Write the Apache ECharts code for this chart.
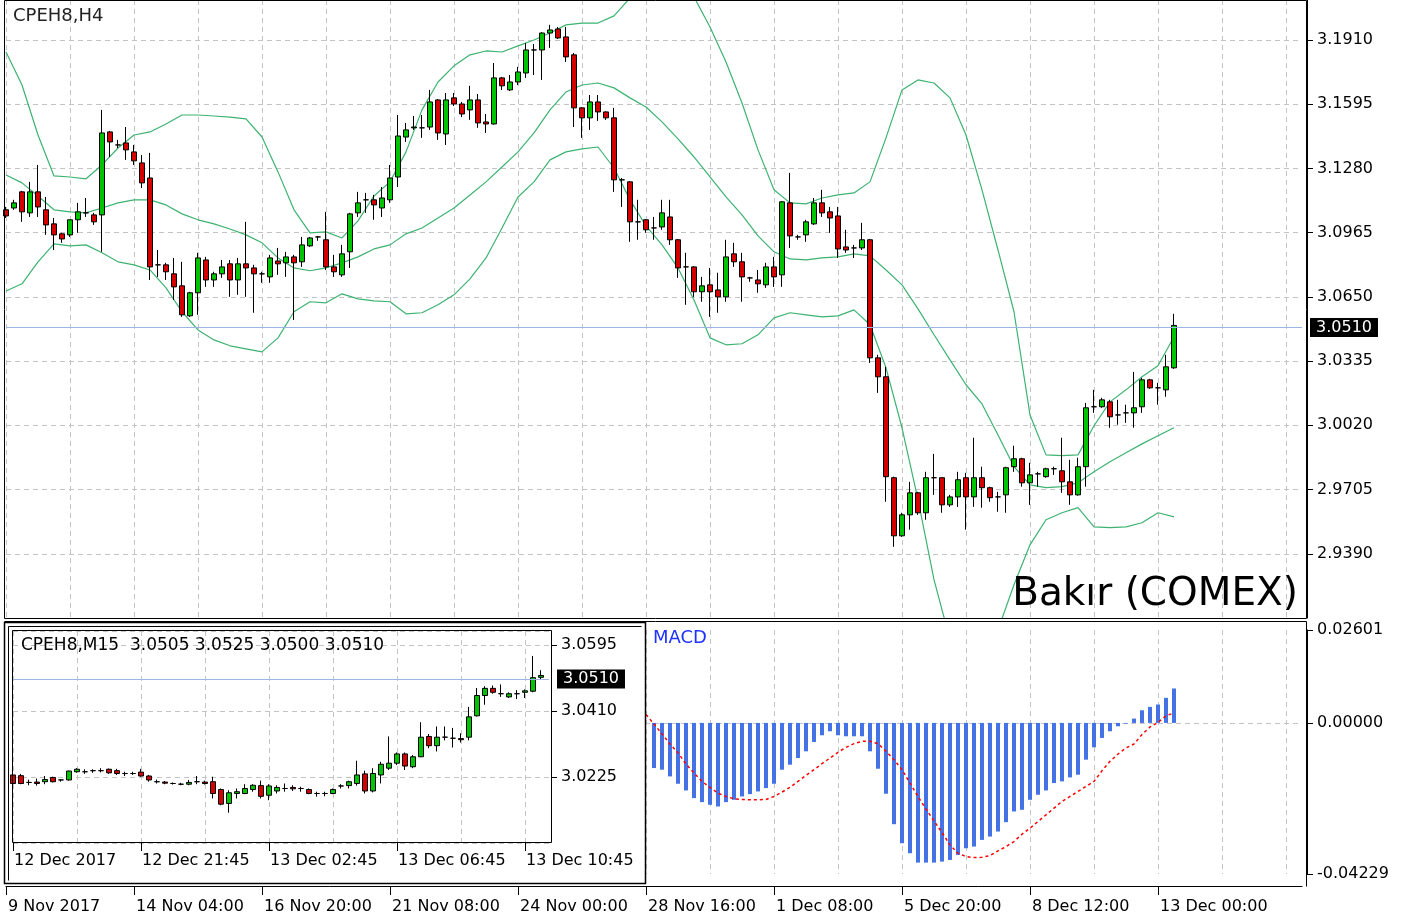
<!DOCTYPE html>
<html lang="tr">
<head>
<meta charset="UTF-8">
<title>CPEH8,H4</title>
<script src="https://cdn.jsdelivr.net/npm/echarts@6/dist/echarts.min.js"></script>
<style>
    html, body { margin: 0; padding: 0; background: #fff; }
    #main { width: 1411px; height: 922px; }
</style>
</head>
<body>
<div id="main"></div>
<script type="text/javascript">
    // H4 mumları: [açılış, kapanış, en düşük, en yüksek]
    var h4Candles = [
        [3.1077,3.1047,3.1037,3.1091],[3.1086,3.1111,3.1077,3.1126],[3.1165,3.1067,3.1018,3.1170],[3.1062,3.1165,3.1042,3.1214],[3.1165,3.1091,3.1042,3.1297],
        [3.1077,3.1003,3.0954,3.1140],[3.1008,3.0954,3.0880,3.1037],[3.0959,3.0934,3.0915,3.0964],[3.0954,3.1028,3.0944,3.1028],[3.1028,3.1067,3.0964,3.1111],
        [3.1062,3.1062,3.1042,3.1135],[3.1052,3.1018,3.1003,3.1062],[3.1052,3.1454,3.0871,3.1567],[3.1459,3.1410,3.1336,3.1464],[3.1395,3.1395,3.1380,3.1420],
        [3.1405,3.1371,3.1322,3.1483],[3.1361,3.1317,3.1297,3.1395],[3.1307,3.1209,3.1184,3.1346],[3.1233,3.0797,3.0733,3.1356],[3.0807,3.0807,3.0748,3.0880],
        [3.0807,3.0773,3.0733,3.0817],[3.0763,3.0699,3.0635,3.0841],[3.0704,3.0562,3.0552,3.0822],[3.0557,3.0670,3.0552,3.0675],[3.0670,3.0841,3.0562,3.0866],
        [3.0831,3.0733,3.0699,3.0846],[3.0733,3.0763,3.0699,3.0773],[3.0763,3.0797,3.0743,3.0831],[3.0812,3.0733,3.0650,3.0831],[3.0733,3.0812,3.0660,3.0841],
        [3.0812,3.0792,3.0650,3.1018],[3.0792,3.0763,3.0572,3.0807],[3.0763,3.0763,3.0719,3.0773],[3.0748,3.0841,3.0719,3.0856],[3.0826,3.0812,3.0758,3.0890],
        [3.0817,3.0846,3.0748,3.0871],[3.0846,3.0817,3.0537,3.0856],[3.0822,3.0905,3.0797,3.0944],[3.0900,3.0939,3.0895,3.0944],[3.0944,3.0944,3.0925,3.0949],
        [3.0930,3.0797,3.0782,3.1067],[3.0797,3.0773,3.0748,3.0856],[3.0758,3.0861,3.0748,3.0905],[3.0871,3.1057,3.0792,3.1062],[3.1062,3.1111,3.1042,3.1165],
        [3.1126,3.1126,3.1062,3.1160],[3.1126,3.1101,3.1028,3.1150],[3.1086,3.1135,3.1042,3.1189],[3.1126,3.1233,3.1111,3.1297],[3.1238,3.1439,3.1189,3.1542],
        [3.1434,3.1469,3.1410,3.1503],[3.1479,3.1483,3.1469,3.1537],[3.1479,3.1479,3.1430,3.1542],[3.1483,3.1606,3.1469,3.1665],[3.1616,3.1454,3.1420,3.1620],
        [3.1449,3.1616,3.1395,3.1650],[3.1626,3.1596,3.1586,3.1650],[3.1596,3.1547,3.1532,3.1606],[3.1567,3.1616,3.1518,3.1685],[3.1616,3.1503,3.1479,3.1645],
        [3.1508,3.1498,3.1454,3.1547],[3.1498,3.1724,3.1495,3.1797],[3.1724,3.1685,3.1665,3.1729],[3.1665,3.1704,3.1660,3.1738],[3.1704,3.1753,3.1689,3.1778],
        [3.1748,3.1861,3.1724,3.1895],[3.1861,3.1861,3.1738,3.1890],[3.1861,3.1944,3.1714,3.1948],[3.1944,3.1959,3.1871,3.1984],[3.1964,3.1920,3.1915,3.1974],
        [3.1925,3.1827,3.1802,3.1974],[3.1837,3.1577,3.1483,3.1846],[3.1577,3.1528,3.1430,3.1581],[3.1528,3.1606,3.1469,3.1640],[3.1606,3.1557,3.1513,3.1640],
        [3.1557,3.1528,3.1518,3.1560],[3.1528,3.1224,3.1165,3.1577],[3.1224,3.1224,3.1091,3.1233],[3.1214,3.1018,3.0920,3.1218],[3.1018,3.1018,3.0930,3.1126],
        [3.1028,3.0979,3.0964,3.1031],[3.0988,3.0988,3.0930,3.1042],[3.0993,3.1062,3.0979,3.1126],[3.1042,3.0930,3.0905,3.1126],[3.0930,3.0792,3.0743,3.0934],
        [3.0797,3.0797,3.0611,3.0866],[3.0797,3.0675,3.0650,3.0800],[3.0675,3.0704,3.0626,3.0748],[3.0709,3.0675,3.0552,3.0792],[3.0684,3.0650,3.0572,3.0768],
        [3.0650,3.0846,3.0626,3.0930],[3.0861,3.0822,3.0797,3.0915],[3.0822,3.0748,3.0626,3.0866],[3.0743,3.0743,3.0724,3.0748],[3.0733,3.0714,3.0670,3.0782],
        [3.0709,3.0797,3.0694,3.0817],[3.0797,3.0748,3.0699,3.0846],[3.0758,3.1116,3.0699,3.1120],[3.1111,3.0949,3.0890,3.1258],[3.0944,3.0944,3.0930,3.0954],
        [3.0954,3.1018,3.0920,3.1028],[3.1008,3.1111,3.1003,3.1135],[3.1111,3.1062,3.1042,3.1175],[3.1067,3.1037,3.0964,3.1091],[3.1047,3.0885,3.0841,3.1091],
        [3.0895,3.0880,3.0866,3.0979],[3.0890,3.0890,3.0841,3.0905],[3.0890,3.0930,3.0880,3.1013],[3.0930,3.0351,3.0326,3.0934],[3.0351,3.0258,3.0179,3.0366],
        [3.0258,2.9768,2.9645,3.0307],[2.9763,2.9478,2.9424,2.9768],[2.9478,2.9581,2.9473,2.9591],[2.9581,2.9689,2.9508,2.9743],[2.9689,2.9591,2.9581,2.9694],
        [2.9591,2.9763,2.9557,2.9792],[2.9763,2.9763,2.9679,2.9880],[2.9763,2.9630,2.9591,2.9766],[2.9630,2.9669,2.9620,2.9679],[2.9669,2.9753,2.9620,2.9792],
        [2.9763,2.9669,2.9508,2.9787],[2.9669,2.9763,2.9620,2.9959],[2.9763,2.9714,2.9616,2.9817],[2.9714,2.9665,2.9645,2.9719],[2.9669,2.9669,2.9596,2.9694],
        [2.9679,2.9812,2.9591,2.9817],[2.9817,2.9856,2.9792,2.9920],[2.9856,2.9738,2.9719,2.9861],[2.9738,2.9777,2.9630,2.9836],[2.9782,2.9782,2.9719,2.9792],
        [2.9768,2.9807,2.9763,2.9812],[2.9807,2.9807,2.9777,2.9817],[2.9797,2.9743,2.9689,2.9959],[2.9743,2.9679,2.9630,2.9851],[2.9679,2.9817,2.9675,2.9861],
        [2.9817,3.0106,2.9719,3.0130],[3.0111,3.0111,3.0081,3.0194],[3.0111,3.0145,3.0106,3.0155],[3.0135,3.0062,3.0008,3.0145],[3.0071,3.0071,3.0023,3.0145],
        [3.0081,3.0081,3.0032,3.0121],[3.0081,3.0106,3.0008,3.0282],[3.0111,3.0243,3.0081,3.0253],[3.0243,3.0204,3.0199,3.0248],[3.0204,3.0204,3.0121,3.0228],
        [3.0194,3.0307,3.0160,3.0366],[3.0302,3.0510,3.0297,3.0567]
    ];

    // Bollinger bantları, her 2 mumda bir okunan değerler (0, 2, 4 ... 146)
    var bbUpper = [
        3.1851,3.1689,3.1444,3.1243,3.1238,3.1229,3.1297,3.1380,3.1444,3.1459,
        3.1498,3.1542,3.1542,3.1537,3.1532,3.1523,3.1434,3.1263,3.1077,3.0964,
        3.0969,3.0939,3.1023,3.1145,3.1214,3.1361,3.1567,3.1704,3.1783,3.1837,
        3.1856,3.1851,3.1881,3.1910,3.1944,3.1984,3.1993,3.1993,3.2028,3.2116,
        3.2180,3.2204,3.2180,3.2121,3.1974,3.1802,3.1601,3.1371,3.1175,3.1111,
        3.1106,3.1135,3.1150,3.1160,3.1214,3.1430,3.1665,3.1714,3.1699,3.1626,
        3.1444,3.1175,3.0880,3.0577,3.0071,2.9875,2.9871,2.9875,3.0018,3.0135,
        3.0194,3.0258,3.0312,3.0454
    ];
    var bbMiddle = [
        3.1248,3.1209,3.1145,3.1077,3.1067,3.1062,3.1086,3.1111,3.1126,3.1126,
        3.1101,3.1057,3.1028,3.1008,3.0983,3.0954,3.0915,3.0841,3.0792,3.0778,
        3.0792,3.0817,3.0846,3.0885,3.0905,3.0959,3.0988,3.1037,3.1086,3.1150,
        3.1214,3.1287,3.1361,3.1454,3.1567,3.1655,3.1689,3.1699,3.1675,3.1626,
        3.1581,3.1508,3.1425,3.1336,3.1238,3.1140,3.1052,3.0949,3.0871,3.0836,
        3.0831,3.0841,3.0846,3.0861,3.0851,3.0782,3.0709,3.0591,3.0464,3.0341,
        3.0219,3.0125,2.9973,2.9817,2.9728,2.9714,2.9719,2.9738,2.9792,2.9841,
        2.9885,2.9929,2.9969,3.0008
    ];
    var bbLower = [
        3.0679,3.0714,3.0822,3.0910,3.0900,3.0905,3.0866,3.0822,3.0807,3.0782,
        3.0694,3.0577,3.0488,3.0439,3.0410,3.0395,3.0380,3.0449,3.0577,3.0626,
        3.0621,3.0665,3.0640,3.0630,3.0626,3.0567,3.0572,3.0611,3.0660,3.0738,
        3.0841,3.0988,3.1140,3.1214,3.1322,3.1361,3.1376,3.1385,3.1282,3.1126,
        3.0998,3.0905,3.0792,3.0635,3.0449,3.0415,3.0420,3.0464,3.0547,3.0572,
        3.0562,3.0552,3.0557,3.0586,3.0513,3.0302,3.0008,2.9655,2.9263,2.8968,
        2.8772,2.8870,2.9017,2.9238,2.9434,2.9557,2.9591,2.9616,2.9522,2.9518,
        2.9522,2.9542,2.9591,2.9571
    ];

    // MACD histogramı (81. mumdan itibaren görünen kısım) ve sinyal çizgisi (80. mumdan itibaren)
    var macdStart = 81;
    var macdHist = [
        -0.01263,-0.01310,-0.01497,-0.01703,-0.01890,-0.02105,-0.02217,-0.02292,-0.02339,-0.02217,
        -0.02152,-0.02058,-0.01993,-0.01918,-0.01824,-0.01703,-0.01310,-0.01169,-0.00982,-0.00795,
        -0.00533,-0.00346,-0.00234,-0.00346,-0.00374,-0.00374,-0.00374,-0.00795,-0.01282,-0.01983,
        -0.02835,-0.03368,-0.03648,-0.03910,-0.03910,-0.03910,-0.03882,-0.03836,-0.03695,-0.03508,
        -0.03461,-0.03274,-0.03181,-0.03040,-0.02778,-0.02479,-0.02432,-0.02152,-0.02011,-0.01890,
        -0.01684,-0.01637,-0.01525,-0.01450,-0.01029,-0.00683,-0.00421,-0.00234,-0.00094,-0.00020,
        0.00122,0.00355,0.00449,0.00515,0.00702,0.00964
    ];
    var signalStart = 80;
    var macdSignal = [
        0.00234,-0.00028,-0.00309,-0.00589,-0.00833,-0.01151,-0.01403,-0.01637,-0.01805,-0.01965,
        -0.02058,-0.02124,-0.02142,-0.02152,-0.02152,-0.02142,-0.02058,-0.01936,-0.01805,-0.01637,
        -0.01469,-0.01310,-0.01141,-0.00982,-0.00823,-0.00683,-0.00580,-0.00515,-0.00515,-0.00580,
        -0.00795,-0.01029,-0.01310,-0.01684,-0.02058,-0.02414,-0.02741,-0.03068,-0.03415,-0.03648,
        -0.03742,-0.03770,-0.03761,-0.03714,-0.03583,-0.03461,-0.03321,-0.03115,-0.02947,-0.02760,
        -0.02573,-0.02386,-0.02198,-0.02058,-0.01918,-0.01777,-0.01637,-0.01338,-0.01076,-0.00870,
        -0.00702,-0.00589,-0.00327,-0.00112,0.00010,0.00200,0.00280
    ];

    // M15 mumları: [açılış, kapanış, en düşük, en yüksek]
    var m15Candles = [
        [3.0231,3.0207,3.0188,3.0234],[3.0229,3.0207,3.0205,3.0234],[3.0210,3.0210,3.0202,3.0218],[3.0211,3.0207,3.0201,3.0221],[3.0212,3.0218,3.0205,3.0228],
        [3.0224,3.0212,3.0210,3.0226],[3.0217,3.0217,3.0212,3.0218],[3.0217,3.0242,3.0215,3.0243],[3.0240,3.0247,3.0237,3.0250],[3.0240,3.0240,3.0234,3.0247],
        [3.0243,3.0243,3.0237,3.0247],[3.0243,3.0243,3.0238,3.0250],[3.0247,3.0237,3.0234,3.0249],[3.0243,3.0235,3.0231,3.0248],[3.0235,3.0235,3.0228,3.0240],
        [3.0235,3.0235,3.0231,3.0240],[3.0239,3.0228,3.0226,3.0248],[3.0228,3.0217,3.0212,3.0231],[3.0212,3.0212,3.0207,3.0218],[3.0211,3.0208,3.0205,3.0214],
        [3.0207,3.0207,3.0204,3.0210],[3.0205,3.0205,3.0202,3.0209],[3.0205,3.0210,3.0202,3.0217],[3.0212,3.0212,3.0205,3.0228],[3.0211,3.0207,3.0204,3.0215],
        [3.0212,3.0179,3.0165,3.0226],[3.0190,3.0149,3.0146,3.0193],[3.0151,3.0181,3.0125,3.0188],[3.0179,3.0184,3.0165,3.0193],[3.0179,3.0193,3.0177,3.0205],
        [3.0190,3.0202,3.0184,3.0205],[3.0201,3.0171,3.0165,3.0215],[3.0174,3.0200,3.0160,3.0205],[3.0186,3.0196,3.0179,3.0202],[3.0193,3.0193,3.0184,3.0207],
        [3.0196,3.0192,3.0186,3.0202],[3.0193,3.0193,3.0184,3.0198],[3.0190,3.0179,3.0177,3.0193],[3.0179,3.0179,3.0170,3.0184],[3.0179,3.0179,3.0171,3.0184],
        [3.0179,3.0190,3.0177,3.0193],[3.0200,3.0200,3.0193,3.0205],[3.0201,3.0212,3.0193,3.0215],[3.0207,3.0231,3.0201,3.0271],[3.0234,3.0186,3.0179,3.0243],
        [3.0186,3.0235,3.0182,3.0250],[3.0231,3.0261,3.0207,3.0268],[3.0250,3.0264,3.0245,3.0339],[3.0264,3.0290,3.0259,3.0294],[3.0290,3.0256,3.0245,3.0294],
        [3.0254,3.0282,3.0250,3.0287],[3.0282,3.0337,3.0281,3.0379],[3.0339,3.0313,3.0306,3.0346],[3.0313,3.0337,3.0297,3.0367],[3.0337,3.0337,3.0328,3.0367],
        [3.0334,3.0334,3.0308,3.0363],[3.0333,3.0330,3.0322,3.0348],[3.0337,3.0394,3.0328,3.0422],[3.0397,3.0454,3.0395,3.0475],[3.0454,3.0474,3.0428,3.0480],
        [3.0474,3.0463,3.0459,3.0482],[3.0459,3.0459,3.0450,3.0485],[3.0450,3.0459,3.0447,3.0463],[3.0459,3.0459,3.0444,3.0469],[3.0463,3.0467,3.0447,3.0471],
        [3.0466,3.0504,3.0463,3.0565],[3.0505,3.0510,3.0500,3.0525]
    ];

    // eksen etiketleri
    var h4DateLabels = ['9 Nov 2017', '14 Nov 04:00', '16 Nov 20:00', '21 Nov 08:00', '24 Nov 00:00',
        '28 Nov 16:00', '1 Dec 08:00', '5 Dec 20:00', '8 Dec 12:00', '13 Dec 00:00'];
    var m15DateLabels = ['12 Dec 2017', '12 Dec 21:45', '13 Dec 02:45', '13 Dec 06:45', '13 Dec 10:45'];
    var h4PriceTicks = {min: 2.9075, max: 3.2106, step: 0.0315};
    var m15PriceTicks = {min: 3.0040, max: 3.0635, step: 0.0185};
    var macdTicks = {min: -0.04229, max: 0.02601, step: 0.04229};

    var FONT = 'DejaVu Sans';
    var GRIDLINE = {color: '#c4c4c4', width: 1, type: [5, 4]};
    var UP = '#00c400', DOWN = '#d40000';

    var mainSlots = 163, m15Slots = 68;
    var mainCats = [], m15Cats = [];
    for (var i = 0; i < mainSlots; i++) mainCats.push(String(i));
    for (var j = 0; j < m15Slots; j++) m15Cats.push(String(j));

    function every(step, labels) {
        return function (idx) { return idx % step === 0 && idx / step < labels.length; };
    }
    function labelOf(step, labels) {
        return function (v, idx) { return idx % step === 0 ? (labels[idx / step] || '') : ''; };
    }
    function band(arr) {
        return arr.map(function (v, k) { return [2 * k, v]; });
    }

    var h4Last = h4Candles[h4Candles.length - 1][1];
    var m15LastBar = m15Candles[m15Candles.length - 1];
    var m15Last = m15LastBar[1];

    function priceLine(value) {
        return {
            silent: true,
            symbol: ['none', 'none'],
            animation: false,
            lineStyle: {color: '#9db5e2', width: 1, type: 'solid'},
            label: {
                show: true, position: 'end', distance: 8,
                formatter: value.toFixed(4),
                color: '#fff', backgroundColor: '#000',
                padding: [2, 6, 1, 6], fontFamily: FONT, fontSize: 16
            },
            data: [{yAxis: value}]
        };
    }

    var myChart = echarts.init(document.getElementById('main'));

    var option = {
        animation: false,
        backgroundColor: '#fff',
        textStyle: {fontFamily: FONT},
        grid: [
            {left: 6, top: 0, width: 1296, height: 618},
            {left: 6, top: 630, width: 1296, height: 244},
            {left: 13, top: 631, width: 536, height: 212, z: 3}
        ],
        xAxis: [
            {
                type: 'category', gridIndex: 0, data: mainCats, boundaryGap: false,
                axisLine: {show: false}, axisTick: {show: false}, axisLabel: {show: false},
                splitLine: {show: true, interval: 7, lineStyle: GRIDLINE}
            },
            {
                type: 'category', gridIndex: 1, data: mainCats, boundaryGap: false, offset: 12,
                axisLine: {show: true, onZero: false, lineStyle: {color: '#000', width: 1}},
                axisTick: {show: true, length: 9, interval: every(16, h4DateLabels), lineStyle: {color: '#000'}},
                axisLabel: {
                    show: true, interval: every(16, h4DateLabels), formatter: labelOf(16, h4DateLabels),
                    align: 'left', margin: 13, color: '#000', fontFamily: FONT, fontSize: 16, padding: [0, 0, 0, 2]
                },
                splitLine: {show: true, interval: 7, lineStyle: GRIDLINE}
            },
            {
                type: 'category', gridIndex: 2, data: m15Cats, boundaryGap: false, z: 3,
                axisLine: {show: false, onZero: false},
                axisTick: {show: true, length: 8, interval: every(16, m15DateLabels), lineStyle: {color: '#000'}},
                axisLabel: {
                    show: true, interval: every(16, m15DateLabels), formatter: labelOf(16, m15DateLabels),
                    align: 'left', margin: 10, color: '#000', fontFamily: FONT, fontSize: 16, padding: [0, 0, 0, 1]
                },
                splitLine: {show: true, interval: 7, lineStyle: GRIDLINE}
            }
        ],
        yAxis: [
            {
                type: 'value', gridIndex: 0, position: 'right', offset: 5,
                min: h4PriceTicks.min, max: h4PriceTicks.max, interval: h4PriceTicks.step,
                axisLine: {show: true, lineStyle: {color: '#000'}},
                axisTick: {show: true, length: 6, lineStyle: {color: '#000'}},
                axisLabel: {
                    color: '#000', fontFamily: FONT, fontSize: 16, margin: 10,
                    showMinLabel: false, showMaxLabel: false,
                    formatter: function (v) { return v.toFixed(4); }
                },
                splitLine: {show: true, lineStyle: GRIDLINE}
            },
            {
                type: 'value', gridIndex: 1, position: 'right', offset: 5,
                min: macdTicks.min, max: macdTicks.max, interval: macdTicks.step,
                axisLine: {show: true, lineStyle: {color: '#000'}},
                axisTick: {show: true, length: 6, lineStyle: {color: '#000'}},
                axisLabel: {
                    color: '#000', fontFamily: FONT, fontSize: 16, margin: 10,
                    formatter: function (v) { return Math.abs(v) < 1e-9 ? '0.00000' : v.toFixed(5); }
                },
                splitLine: {show: true, lineStyle: {color: ['rgba(0,0,0,0)', '#c4c4c4', 'rgba(0,0,0,0)'], type: [5, 4]}}
            },
            {
                type: 'value', gridIndex: 2, position: 'right', offset: 3, z: 3,
                min: m15PriceTicks.min, max: m15PriceTicks.max, interval: m15PriceTicks.step,
                axisLine: {show: false},
                axisTick: {show: true, length: 5, lineStyle: {color: '#000'}},
                axisLabel: {
                    color: '#000', fontFamily: FONT, fontSize: 16, margin: 9,
                    showMinLabel: false, showMaxLabel: false,
                    formatter: function (v) { return v.toFixed(4); }
                },
                splitLine: {show: true, lineStyle: GRIDLINE}
            }
        ],
        series: [
            {
                name: 'BB üst', type: 'line', xAxisIndex: 0, yAxisIndex: 0, z: 2,
                data: band(bbUpper), showSymbol: false, silent: true,
                lineStyle: {color: '#3cb371', width: 1.2}
            },
            {
                name: 'BB orta', type: 'line', xAxisIndex: 0, yAxisIndex: 0, z: 2,
                data: band(bbMiddle), showSymbol: false, silent: true,
                lineStyle: {color: '#3cb371', width: 1.2}
            },
            {
                name: 'BB alt', type: 'line', xAxisIndex: 0, yAxisIndex: 0, z: 2,
                data: band(bbLower), showSymbol: false, silent: true,
                lineStyle: {color: '#3cb371', width: 1.2}
            },
            {
                name: 'CPEH8,H4', type: 'candlestick', xAxisIndex: 0, yAxisIndex: 0, z: 3,
                data: h4Candles, barWidth: 5,
                itemStyle: {color: UP, color0: DOWN, borderColor: '#000', borderColor0: '#000', borderWidth: 1},
                markLine: priceLine(h4Last)
            },
            {
                name: 'MACD', type: 'bar', xAxisIndex: 1, yAxisIndex: 1, barWidth: 4,
                data: macdHist.map(function (v, k) { return [macdStart + k, v]; }),
                itemStyle: {color: '#4573e6'}
            },
            {
                name: 'Sinyal', type: 'line', xAxisIndex: 1, yAxisIndex: 1, z: 3,
                data: macdSignal.map(function (v, k) { return [signalStart + k, v]; }),
                showSymbol: false, silent: true,
                lineStyle: {color: '#ff0000', width: 1.5, type: [3, 3]}
            },
            {
                name: 'CPEH8,M15', type: 'candlestick', xAxisIndex: 2, yAxisIndex: 2, z: 4,
                data: m15Candles, barWidth: 5,
                itemStyle: {color: UP, color0: DOWN, borderColor: '#000', borderColor0: '#000', borderWidth: 1},
                markLine: priceLine(m15Last)
            }
        ],
        graphic: [
            // M15 penceresinin arka planı (MACD ızgarasını örter)
            {type: 'rect', z: 1, silent: true, shape: {x: 4, y: 622, width: 642, height: 262}, style: {fill: '#fff'}},
            // çerçeveler
            {type: 'rect', z: 20, silent: true, shape: {x: 4.5, y: 0.5, width: 1302, height: 618}, style: {fill: 'none', stroke: '#000', lineWidth: 1}},
            {type: 'polyline', z: 20, silent: true, shape: {points: [[4.5, 621.5], [1306.5, 621.5], [1306.5, 886.5]]}, style: {fill: 'none', stroke: '#000', lineWidth: 1}},
            {type: 'rect', z: 20, silent: true, shape: {x: 4.5, y: 622.5, width: 641, height: 261}, style: {fill: 'none', stroke: '#000', lineWidth: 1.5}},
            {type: 'polyline', z: 20, silent: true, shape: {points: [[8.5, 880.5], [8.5, 626.5], [641.5, 626.5]]}, style: {fill: 'none', stroke: '#000', lineWidth: 1}},
            {type: 'rect', z: 20, silent: true, shape: {x: 12.5, y: 630.5, width: 539, height: 212}, style: {fill: 'none', stroke: '#000', lineWidth: 1}},
            // yazılar
            {type: 'text', z: 21, silent: true, left: 13, top: 7,
                style: {text: 'CPEH8,H4', fill: '#222', font: '18px "DejaVu Sans"'}},
            {type: 'text', z: 21, silent: true, left: 21, top: 637,
                style: {
                    text: 'CPEH8,M15  ' + [m15LastBar[0], m15LastBar[3], m15LastBar[2], m15LastBar[1]].map(function (v) { return v.toFixed(4); }).join(' '),
                    fill: '#000', font: '17px "DejaVu Sans"'
                }},
            {type: 'text', z: 21, silent: true, left: 653, top: 629,
                style: {text: 'MACD', fill: '#1e32ff', font: '18px "DejaVu Sans"'}},
            {type: 'text', z: 21, silent: true, right: 113, top: 575,
                style: {text: 'Bakır (COMEX)', fill: '#000', font: '39px "DejaVu Sans"'}}
        ]
    };

    myChart.setOption(option);
</script>
</body>
</html>
